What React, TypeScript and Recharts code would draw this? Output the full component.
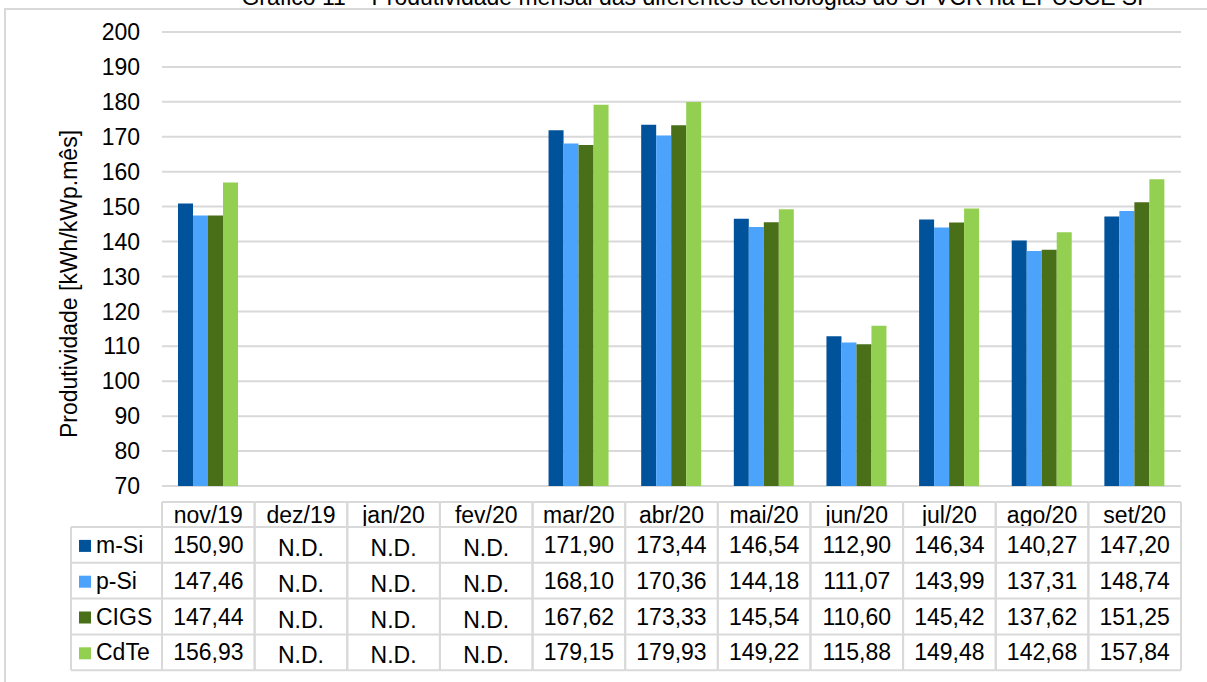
import React from "react";
import { BarChart, Bar, XAxis, YAxis, CartesianGrid } from "recharts";

const months = ["nov/19", "dez/19", "jan/20", "fev/20", "mar/20", "abr/20", "mai/20", "jun/20", "jul/20", "ago/20", "set/20"];

// null = N.D. (sem dados)
const mSi = [150.9, null, null, null, 171.9, 173.44, 146.54, 112.9, 146.34, 140.27, 147.2];
const pSi = [147.46, null, null, null, 168.1, 170.36, 144.18, 111.07, 143.99, 137.31, 148.74];
const cigs = [147.44, null, null, null, 167.62, 173.33, 145.54, 110.6, 145.42, 137.62, 151.25];
const cdte = [156.93, null, null, null, 179.15, 179.93, 149.22, 115.88, 149.48, 142.68, 157.84];

const yTicks = [70, 80, 90, 100, 110, 120, 130, 140, 150, 160, 170, 180, 190, 200];

const series = [
  { key: "mSi", name: "m-Si", color: "#00529b", values: mSi },
  { key: "pSi", name: "p-Si", color: "#4ba3fb", values: pSi },
  { key: "cigs", name: "CIGS", color: "#4a6f19", values: cigs },
  { key: "cdte", name: "CdTe", color: "#93d051", values: cdte },
];

const data = months.map((month, i) => {
  const row: Record<string, string | number | null> = { month };
  series.forEach((s) => (row[s.key] = s.values[i]));
  return row;
});

const FONT = '"Liberation Sans", Arial, sans-serif';
const FONT_SIZE = 23;
const LINE = "#d9d9d9";

const CHART_W = 1207;
const CHART_H = 682;
const Y_AXIS_W = 162;
const MARGIN_TOP = 32;
const MARGIN_RIGHT = 26;
const X_AXIS_H = 196;

const PLOT_W = CHART_W - Y_AXIS_W - MARGIN_RIGHT;
const PLOT_BOTTOM = CHART_H - X_AXIS_H;
const BAND = PLOT_W / months.length;

// data table under the axis
const TABLE_GAP = 16;
const HEADER_H = 25;
const ROW_H = 35.8;
const LABEL_LEFT = 71;

const fmt = (v: number | null | undefined) =>
  v == null ? "N.D." : v.toFixed(2).replace(".", ",");

function TableTick(props: any) {
  const { x, payload, index } = props;
  const x0 = x - BAND / 2;
  const x1 = x + BAND / 2;
  const top = PLOT_BOTTOM + TABLE_GAP;
  const rowsTop = top + HEADER_H;
  const bottom = rowsTop + ROW_H * series.length;
  const i = payload.index ?? index;

  return (
    <g fontFamily={FONT} fontSize={FONT_SIZE} fill="#000">
      <line x1={x0} y1={top} x2={x1} y2={top} stroke={LINE} strokeWidth={2} />
      <line x1={x0} y1={top} x2={x0} y2={bottom} stroke={LINE} strokeWidth={2} />
      <line x1={x1} y1={top} x2={x1} y2={bottom} stroke={LINE} strokeWidth={2} />
      <text x={x} y={top + HEADER_H / 2 + 8} textAnchor="middle">
        {payload.value}
      </text>
      {series.map((s, r) => {
        const v = s.values[i];
        const cy = rowsTop + ROW_H * r + ROW_H / 2;
        return (
          <g key={s.key}>
            <line x1={x0} y1={rowsTop + ROW_H * r} x2={x1} y2={rowsTop + ROW_H * r} stroke={LINE} strokeWidth={2} />
            <text x={x} y={cy + 8 + (v == null ? 3 : 0)} textAnchor="middle">
              {fmt(v)}
            </text>
          </g>
        );
      })}
      <line x1={x0} y1={bottom} x2={x1} y2={bottom} stroke={LINE} strokeWidth={2} />

      {i === 0 && (
        <g>
          <line x1={LABEL_LEFT} y1={rowsTop} x2={LABEL_LEFT} y2={bottom} stroke={LINE} strokeWidth={2} />
          {series.map((s, r) => {
            const cy = rowsTop + ROW_H * r + ROW_H / 2;
            return (
              <g key={s.key}>
                <line x1={LABEL_LEFT} y1={rowsTop + ROW_H * r} x2={x0} y2={rowsTop + ROW_H * r} stroke={LINE} strokeWidth={2} />
                <rect x={79} y={cy - 5} width={12} height={12} fill={s.color} />
                <text x={96} y={cy + 8}>{s.name}</text>
              </g>
            );
          })}
          <line x1={LABEL_LEFT} y1={bottom} x2={x0} y2={bottom} stroke={LINE} strokeWidth={2} />
        </g>
      )}
    </g>
  );
}

export default function App() {
  return (
    <div style={{ position: "absolute", left: 0, top: 0, width: CHART_W, height: CHART_H, overflow: "hidden", background: "#fff" }}>
      <svg width={CHART_W} height={CHART_H} style={{ position: "absolute", left: 0, top: 0 }}>
        <rect x={5} y={9} width={1240} height={720} fill="none" stroke={LINE} strokeWidth={2} />
        <text x={697} y={5} textAnchor="middle" fontFamily={FONT} fontSize={FONT_SIZE} fill="#000">
          Gráfico 11 – Produtividade mensal das diferentes tecnologias do SFVCR na EPUSCE SP
        </text>
        <text
          transform="translate(77, 284) rotate(-90)"
          textAnchor="middle"
          fontFamily={FONT}
          fontSize={FONT_SIZE}
          fill="#000"
        >
          Produtividade [kWh/kWp.mês]
        </text>
      </svg>
      <div style={{ position: "absolute", left: 0, top: 0 }}>
        <BarChart
          width={CHART_W}
          height={CHART_H}
          data={data}
          margin={{ top: MARGIN_TOP, right: MARGIN_RIGHT, left: 0, bottom: 0 }}
          barSize={15}
          barGap={0}
        >
          <CartesianGrid vertical={false} stroke={LINE} strokeWidth={2} />
          <XAxis
            dataKey="month"
            height={X_AXIS_H}
            axisLine={false}
            tickLine={false}
            tickSize={0}
            tickMargin={0}
            interval={0}
            tick={(p: any) => <TableTick {...p} />}
          />
          <YAxis
            width={Y_AXIS_W}
            domain={[70, 200]}
            ticks={yTicks}
            interval={0}
            axisLine={false}
            tickLine={false}
            tickMargin={16}
            tick={{ fill: "#000", fontSize: FONT_SIZE, fontFamily: FONT }}
          />
          {series.map((s) => (
            <Bar key={s.key} dataKey={s.key} name={s.name} fill={s.color} isAnimationActive={false} />
          ))}
        </BarChart>
      </div>
    </div>
  );
}
